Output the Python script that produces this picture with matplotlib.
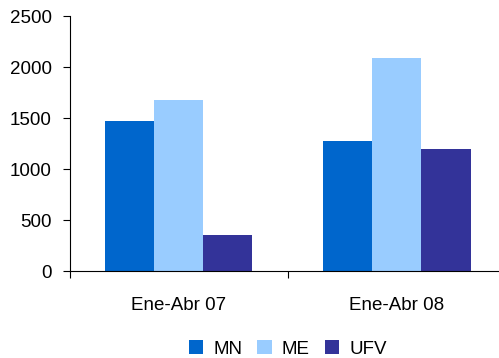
import matplotlib
matplotlib.use("Agg")
import matplotlib.pyplot as plt
import numpy as np

plt.rcParams["font.family"] = ["Liberation Sans", "DejaVu Sans"]

categories = ["Ene-Abr 07", "Ene-Abr 08"]
series = ["MN", "ME", "UFV"]
mn = [1470, 1275]
me = [1676, 2088]
ufv = [353, 1196]
colors = ["#0066CC", "#99CCFF", "#333399"]

fig = plt.figure(figsize=(4.99, 3.58), dpi=100)
ax = fig.add_axes([0.140, 0.243, 0.874, 0.712])

x = np.arange(len(categories))
width = 0.225
for i, (vals, name, c) in enumerate(zip([mn, me, ufv], series, colors)):
    ax.bar(x + (i - 1) * width, vals, width, color=c, label=name)

ax.set_ylim(0, 2500)
ax.set_yticks(range(0, 2501, 500))
ax.set_xlim(-0.5, 1.5)
ax.set_xticks([-0.5, 0.5, 1.5], minor=False)
ax.set_xticklabels([])
ax.set_xticks(x, minor=True)
ax.set_xticklabels(categories, minor=True)
ax.tick_params(axis="x", which="major", length=5, direction="out", color="black")
ax.tick_params(axis="x", which="minor", length=0, pad=19, labelsize=13.5)
ax.tick_params(axis="y", length=5, direction="out", labelsize=13.5, pad=8)

ax.spines["top"].set_visible(False)
ax.spines["right"].set_visible(False)

fig.legend(loc="center", bbox_to_anchor=(0.577, 0.025), ncol=3, frameon=False,
           fontsize=13.5, handlelength=0.75, handleheight=0.75, handletextpad=0.55,
           columnspacing=0.8, borderaxespad=0, borderpad=0)

fig.savefig("out.png", dpi=100)
